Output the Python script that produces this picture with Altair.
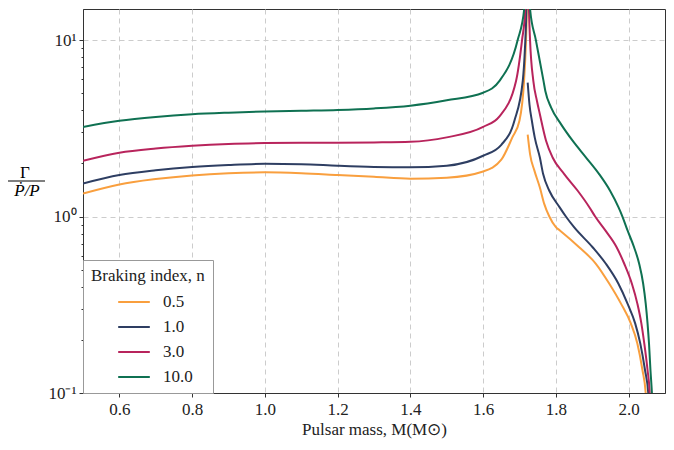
import altair as alt
import pandas as pd

series = ["0.5", "1.0", "3.0", "10.0"]
colors = ["#f99f3e", "#2e3e62", "#b8245c", "#0f7152"]

# ---- left branches (below the peak near M = 1.72) ----
m_left_05 = [0.5, 0.6, 0.7, 0.8, 0.9, 1.0, 1.1, 1.2, 1.3, 1.4, 1.5, 1.6, 1.65, 1.68, 1.70, 1.7125, 1.717, 1.72, 1.7222]
g_left_05 = [1.35, 1.52, 1.63, 1.71, 1.76, 1.78, 1.76, 1.72, 1.68, 1.64, 1.66, 1.80, 2.10, 2.80, 3.50, 5.87, 9.0, 15.0, 40.0]

m_left_10 = [0.5, 0.6, 0.7, 0.8, 0.9, 1.0, 1.1, 1.2, 1.3, 1.4, 1.5, 1.6, 1.65, 1.686, 1.709, 1.715, 1.719, 1.7222]
g_left_10 = [1.54, 1.72, 1.83, 1.91, 1.96, 1.99, 1.98, 1.94, 1.91, 1.90, 1.94, 2.21, 2.55, 3.49, 5.87, 9.0, 15.0, 40.0]

m_left_30 = [0.5, 0.6, 0.7, 0.8, 0.9, 1.0, 1.1, 1.2, 1.3, 1.4, 1.5, 1.6, 1.645, 1.6905, 1.707, 1.716, 1.7222]
g_left_30 = [2.07, 2.30, 2.43, 2.52, 2.58, 2.61, 2.62, 2.62, 2.63, 2.65, 2.81, 3.22, 3.70, 5.87, 10.0, 15.0, 40.0]

m_left_100 = [0.5, 0.6, 0.7, 0.8, 0.9, 1.0, 1.1, 1.2, 1.3, 1.4, 1.5, 1.6, 1.645, 1.695, 1.713, 1.7222]
g_left_100 = [3.22, 3.49, 3.67, 3.80, 3.88, 3.94, 3.98, 4.02, 4.10, 4.25, 4.56, 5.03, 5.87, 10.0, 15.0, 40.0]

# ---- right branches (above the peak) ----
m_right_05 = [1.7225, 1.729, 1.741, 1.756, 1.768, 1.782, 1.80, 1.811, 1.864, 1.91, 1.947, 1.979, 2.006, 2.024, 2.038, 2.047, 2.05]
g_right_05 = [2.91, 2.26, 1.82, 1.46, 1.18, 1.00, 0.87, 0.834, 0.67, 0.54, 0.416, 0.321, 0.248, 0.191, 0.135, 0.10, 0.08]

m_right_10 = [1.7225, 1.7275, 1.734, 1.742, 1.756, 1.765, 1.782, 1.81, 1.8275, 1.85, 1.901, 1.9375, 1.972, 1.997, 2.018, 2.032, 2.045, 2.054, 2.057]
g_right_10 = [5.74, 4.30, 3.49, 2.80, 2.16, 1.74, 1.40, 1.13, 1.00, 0.87, 0.67, 0.54, 0.416, 0.321, 0.248, 0.191, 0.135, 0.10, 0.08]

m_right_30 = [1.7235, 1.726, 1.729, 1.738, 1.748, 1.756, 1.773, 1.791, 1.823, 1.86, 1.892, 1.908, 1.936, 1.967, 1.988, 2.009, 2.024, 2.035, 2.043, 2.052, 2.058, 2.06]
g_right_30 = [30.0, 15.0, 10.0, 5.87, 4.52, 3.80, 2.69, 2.16, 1.74, 1.40, 1.13, 1.00, 0.834, 0.67, 0.54, 0.416, 0.321, 0.248, 0.191, 0.135, 0.10, 0.08]

m_right_100 = [1.7235, 1.729, 1.745, 1.766, 1.771, 1.787, 1.814, 1.846, 1.883, 1.919, 1.949, 1.972, 1.983, 1.997, 2.015, 2.029, 2.04, 2.047, 2.052, 2.056, 2.06, 2.064, 2.066]
g_right_100 = [30.0, 15.0, 10.0, 5.87, 5.15, 4.14, 3.34, 2.69, 2.16, 1.74, 1.40, 1.13, 1.00, 0.834, 0.67, 0.54, 0.416, 0.321, 0.248, 0.191, 0.135, 0.10, 0.08]

branches = [
    ("0.5", "L", m_left_05, g_left_05), ("0.5", "R", m_right_05, g_right_05),
    ("1.0", "L", m_left_10, g_left_10), ("1.0", "R", m_right_10, g_right_10),
    ("3.0", "L", m_left_30, g_left_30), ("3.0", "R", m_right_30, g_right_30),
    ("10.0", "L", m_left_100, g_left_100), ("10.0", "R", m_right_100, g_right_100),
]
rows = []
for n, b, ms, gs in branches:
    for m, g in zip(ms, gs):
        rows.append({"n": n, "branch": n + b, "M": m, "G": g})
df = pd.DataFrame(rows)

FONT = "Liberation Serif"
decade = "datum.value == 0.1 || datum.value == 1 || datum.value == 10"
y_ticks = [0.1, 0.2, 0.3, 0.4, 0.5, 0.6, 0.7, 0.8, 0.9, 1, 2, 3, 4, 5, 6, 7, 8, 9, 10]

lines = alt.Chart(df).mark_line(strokeWidth=2, clip=True, interpolate="monotone").encode(
    x=alt.X("M:Q", scale=alt.Scale(domain=[0.5, 2.1], nice=False, zero=False),
            axis=alt.Axis(values=[0.6, 0.8, 1.0, 1.2, 1.4, 1.6, 1.8, 2.0], format=".1f",
                          title="Pulsar mass, M(M⊙)", grid=True, gridDash=[5, 4],
                          gridColor="#cccccc", tickSize=4, labelPadding=4, titlePadding=4)),
    y=alt.Y("G:Q", scale=alt.Scale(type="log", domain=[0.1, 15], nice=False),
            axis=alt.Axis(values=y_ticks, title=None, grid=True, gridDash=[5, 4], gridColor="#cccccc",
                          gridOpacity={"condition": {"test": decade, "value": 1}, "value": 0},
                          tickSize={"condition": {"test": decade, "value": 4}, "value": 2},
                          labelExpr="datum.value == 10 ? '10¹' : datum.value == 1 ? '10⁰' : datum.value == 0.1 ? '10⁻¹' : ''",
                          labelPadding=3)),
    color=alt.Color("n:N", scale=alt.Scale(domain=series, range=colors),
                    legend=alt.Legend(orient="bottom-left", offset=0, title="Braking index, n",
                                      symbolType="stroke", symbolStrokeWidth=2, symbolSize=1000,
                                      strokeColor="#999999", fillColor="white", padding=8,
                                      cornerRadius=0, titleFontWeight="normal", titleFontSize=17,
                                      labelFontSize=17, symbolOffset=26, rowPadding=0,
                                      titlePadding=0, labelOffset=12)),
    detail="branch:N",
)

lab = pd.DataFrame({"t": ["x"]})
gamma = alt.Chart(lab).mark_text(text="Γ", font=FONT, fontSize=17, baseline="middle", align="center").encode(
    x=alt.value(-58), y=alt.value(164))
bar = alt.Chart(lab).mark_rule(color="black", strokeWidth=1).encode(
    x=alt.value(-75), x2=alt.value(-38), y=alt.value(172))
pdot = alt.Chart(lab).mark_text(text="Ṗ/P", font=FONT, fontSize=17, fontStyle="italic", baseline="middle", align="center").encode(
    x=alt.value(-56), y=alt.value(182))

chart = alt.layer(lines, gamma, bar, pdot).properties(
    width=582, height=384, autosize="none",
    padding={"left": 75, "top": 1, "right": 1, "bottom": 47},
).configure(font=FONT).configure_view(stroke="#333333", strokeWidth=1).configure_axis(
    labelFont=FONT, titleFont=FONT, labelFontSize=17, titleFontSize=17, titleFontWeight="normal",
    labelColor="#222222", titleColor="#222222", domainColor="#333333", tickColor="#333333",
).configure_legend(labelFont=FONT, titleFont=FONT, labelColor="#222222", titleColor="#222222")

chart.save("out.html", embed_options={"renderer": "svg", "actions": False})
